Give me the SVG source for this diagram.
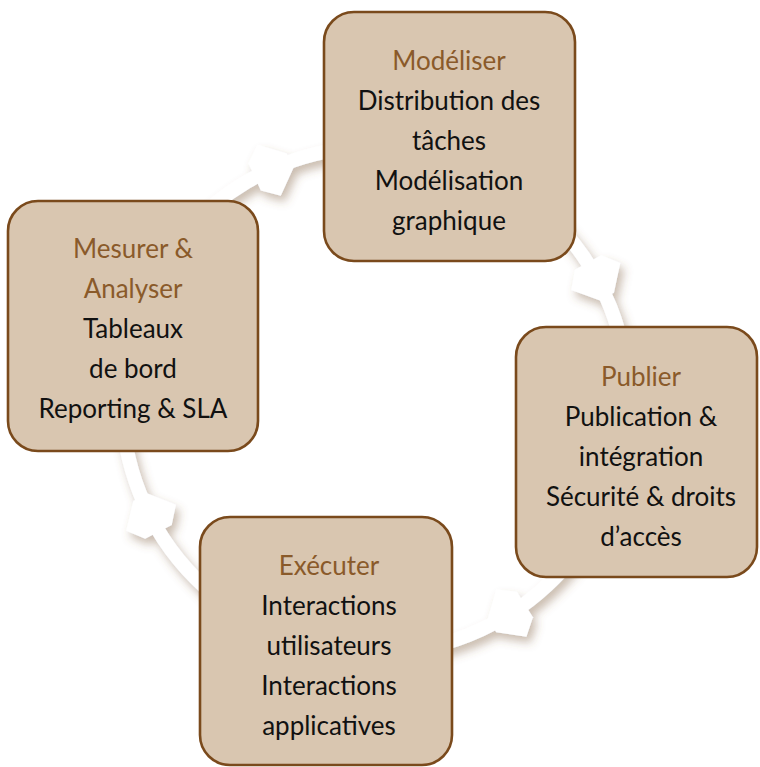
<svg xmlns="http://www.w3.org/2000/svg" width="760" height="767" viewBox="0 0 760 767">
<style>
.box{fill:#D9C6B0;stroke:#7A4A1C;stroke-width:2.6}
.t{font-family:Lato,"Open Sans","Liberation Sans",sans-serif;font-size:26px;text-anchor:middle;fill:#111}
.h{fill:#8A5A2A}
.ring{fill:none;stroke:#fff;stroke-width:14}
.head{fill:#fff}
</style>
<defs>
<filter id="sh" x="-20%" y="-20%" width="140%" height="140%">
<feDropShadow dx="4" dy="6" stdDeviation="5" flood-color="#7a5a3a" flood-opacity="0.4"/>
</filter>
<polygon id="ah" points="-15,-17 15,-17 28,-1 8,22 -8,22 -28,-1"/>
</defs>
<g id="connectors" filter="url(#sh)">
<circle class="ring" cx="375" cy="400" r="253"/>
<g class="head">
<use href="#ah" transform="translate(375,400) rotate(-114.5) translate(253,0)"/>
<use href="#ah" transform="translate(375,400) rotate(-29) translate(253,0)"/>
<use href="#ah" transform="translate(375,400) rotate(57.6) translate(253,0)"/>
<use href="#ah" transform="translate(375,400) rotate(152.5) translate(253,0)"/>
</g>
</g>
<g id="modeliser">
<rect class="box" x="324" y="12" width="251" height="249" rx="30"/>
<text class="t"><tspan class="h" x="449" y="70">Modéliser</tspan><tspan x="449" y="110">Distribution des</tspan><tspan x="449" y="150">tâches</tspan><tspan x="449" y="190">Modélisation</tspan><tspan x="449" y="230">graphique</tspan></text>
</g>
<g id="publier">
<rect class="box" x="516" y="327" width="241" height="250" rx="30"/>
<text class="t"><tspan class="h" x="641" y="386">Publier</tspan><tspan x="641" y="426">Publication &amp;</tspan><tspan x="641" y="466">intégration</tspan><tspan x="641" y="506">Sécurité &amp; droits</tspan><tspan x="641" y="546">d’accès</tspan></text>
</g>
<g id="executer">
<rect class="box" x="200" y="517" width="252" height="248" rx="30"/>
<text class="t"><tspan class="h" x="329" y="575">Exécuter</tspan><tspan x="329" y="615">Interactions</tspan><tspan x="329" y="655">utilisateurs</tspan><tspan x="329" y="695">Interactions</tspan><tspan x="329" y="735">applicatives</tspan></text>
</g>
<g id="mesurer">
<rect class="box" x="8" y="201" width="250" height="250" rx="30"/>
<text class="t"><tspan class="h" x="133" y="258">Mesurer &amp;</tspan><tspan class="h" x="133" y="298">Analyser</tspan><tspan x="133" y="338">Tableaux</tspan><tspan x="133" y="378">de bord</tspan><tspan x="133" y="418">Reporting &amp; SLA</tspan></text>
</g>
</svg>
